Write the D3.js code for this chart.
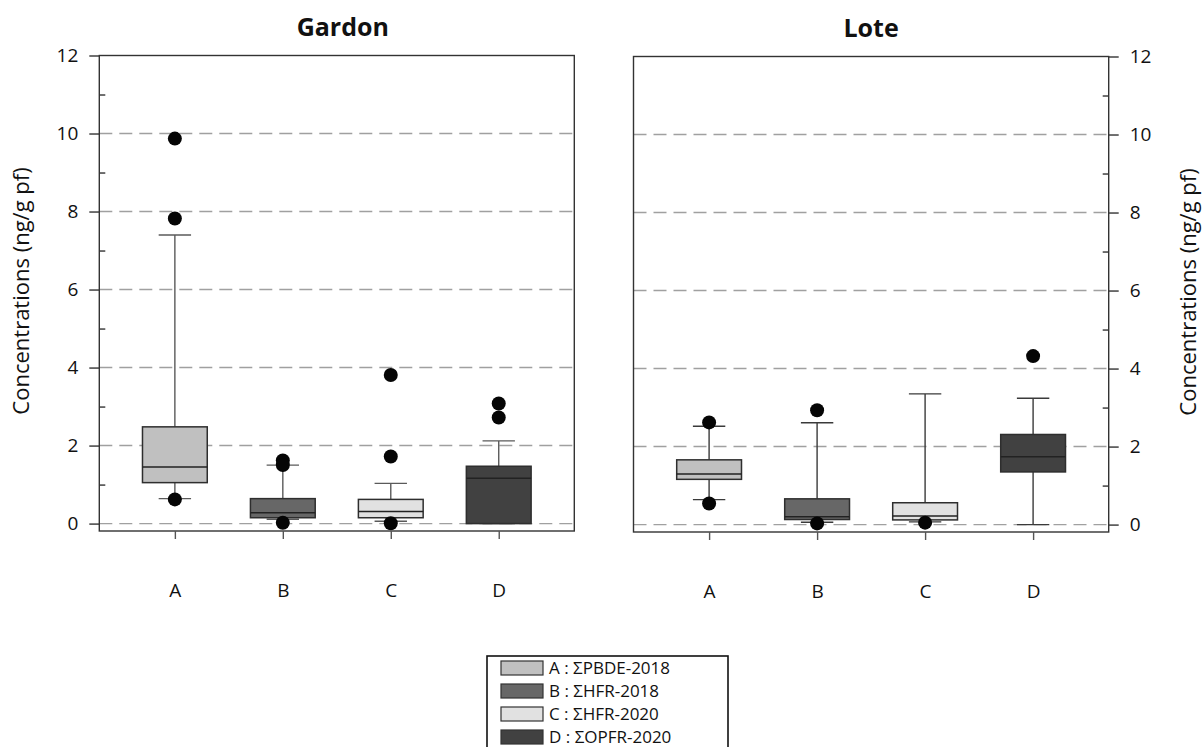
<!DOCTYPE html>
<html>
<head>
<meta charset="utf-8">
<script src="https://cdnjs.cloudflare.com/ajax/libs/d3/7.8.5/d3.min.js"></script>
<style>
  body { margin: 0; background: #fff; }
  svg { font-family: "Open Sans", "DejaVu Sans", sans-serif; }
</style>
</head>
<body>
<svg id="chart" width="1203" height="747"></svg>
<script>
// categories and legend
var categories = ["A", "B", "C", "D"];
var legendLabels = ["A : \u03A3PBDE-2018", "B : \u03A3HFR-2018", "C : \u03A3HFR-2020", "D : \u03A3OPFR-2020"];
var boxColors = ["#c0c0c0", "#676767", "#e1e1e1", "#414141"];

// y axis ticks
var yTicks = [0, 2, 4, 6, 8, 10, 12];
var yMinorTicks = [1, 3, 5, 7, 9, 11];
var gridValues = [0, 2, 4, 6, 8, 10];

// Gardon box stats (ng/g pf)
var gardonLow    = [0.64, 0.11, 0.06, 0.00];
var gardonQ1     = [1.05, 0.15, 0.15, 0.00];
var gardonMedian = [1.45, 0.28, 0.31, 1.16];
var gardonQ3     = [2.48, 0.64, 0.62, 1.47];
var gardonHigh   = [7.40, 1.50, 1.03, 2.12];
var gardonOutliers = [[9.87, 7.82, 0.62], [1.62, 1.50, 0.02], [3.81, 1.72, 0.01], [3.08, 2.72]];

// Lote box stats (ng/g pf)
var loteLow    = [0.64, 0.06, 0.07, 0.00];
var loteQ1     = [1.16, 0.13, 0.12, 1.35];
var loteMedian = [1.30, 0.20, 0.22, 1.74];
var loteQ3     = [1.66, 0.66, 0.56, 2.31];
var loteHigh   = [2.52, 2.61, 3.35, 3.24];
var loteOutliers = [[2.62, 0.54], [2.93, 0.03], [0.05], [4.32]];

var svg = d3.select("#chart");

var y = d3.scaleLinear()
    .domain([-0.19, 12])
    .range([531, 55.5]);

/**
 * Draws one boxplot panel
 */
function drawPanel(opts) {
    var g = svg.append("g").attr("transform", "translate(0," + opts.dy + ")");

    var x = d3.scalePoint()
        .domain(categories)
        .range([opts.left, opts.right])
        .padding(0.7);
    var step = x.step();
    var boxW = step * 0.6;
    var capW = step * 0.3;

    var rows = categories.map(function(c, i) {
        return {cat: c, low: opts.low[i], q1: opts.q1[i], med: opts.median[i],
                q3: opts.q3[i], high: opts.high[i], out: opts.outliers[i], color: boxColors[i]};
    });

    // dashed grid lines
    g.selectAll(".grid")
        .data(gridValues)
        .enter().append("line")
        .attr("x1", opts.left).attr("x2", opts.right)
        .attr("y1", function(d) { return y(d); })
        .attr("y2", function(d) { return y(d); })
        .attr("stroke", "#a0a0a0")
        .attr("stroke-width", 1.4)
        .attr("stroke-dasharray", "13,7");

    // whiskers
    var wc = opts.whiskerColor;
    rows.forEach(function(d) {
        var cx = x(d.cat);
        g.append("line").attr("x1", cx).attr("x2", cx)
            .attr("y1", y(d.q3)).attr("y2", y(d.high))
            .attr("stroke", wc).attr("stroke-width", 1.4);
        g.append("line").attr("x1", cx).attr("x2", cx)
            .attr("y1", y(d.q1)).attr("y2", y(d.low))
            .attr("stroke", wc).attr("stroke-width", 1.4);
        g.append("line").attr("x1", cx - capW / 2).attr("x2", cx + capW / 2)
            .attr("y1", y(d.high)).attr("y2", y(d.high))
            .attr("stroke", wc).attr("stroke-width", 1.4);
        g.append("line").attr("x1", cx - capW / 2).attr("x2", cx + capW / 2)
            .attr("y1", y(d.low)).attr("y2", y(d.low))
            .attr("stroke", wc).attr("stroke-width", 1.4);
    });

    // boxes
    g.selectAll(".box")
        .data(rows)
        .enter().append("rect")
        .attr("x", function(d) { return x(d.cat) - boxW / 2; })
        .attr("width", boxW)
        .attr("y", function(d) { return y(d.q3); })
        .attr("height", function(d) { return y(d.q1) - y(d.q3); })
        .attr("fill", function(d) { return d.color; })
        .attr("stroke", "#2e2e2e")
        .attr("stroke-width", 1.5);

    g.selectAll(".median")
        .data(rows)
        .enter().append("line")
        .attr("x1", function(d) { return x(d.cat) - boxW / 2; })
        .attr("x2", function(d) { return x(d.cat) + boxW / 2; })
        .attr("y1", function(d) { return y(d.med); })
        .attr("y2", function(d) { return y(d.med); })
        .attr("stroke", "#222")
        .attr("stroke-width", 1.5);

    // outliers
    rows.forEach(function(d) {
        g.selectAll(null)
            .data(d.out)
            .enter().append("circle")
            .attr("cx", x(d.cat))
            .attr("cy", function(v) { return y(v); })
            .attr("r", 7)
            .attr("fill", "#050505");
    });

    // frame
    g.append("rect")
        .attr("x", opts.left).attr("y", y(12))
        .attr("width", opts.right - opts.left)
        .attr("height", y(-0.19) - y(12))
        .attr("fill", "none")
        .attr("stroke", "#333")
        .attr("stroke-width", 1.4);

    // bottom axis
    var xAxis = g.append("g")
        .attr("transform", "translate(0," + y(-0.19) + ")")
        .call(d3.axisBottom(x).tickSize(8).tickPadding(45));
    xAxis.select(".domain").remove();
    xAxis.selectAll("line").attr("stroke", "#555").attr("stroke-width", 1.4);
    xAxis.selectAll("text").attr("font-size", 19).attr("fill", "#111")
        .attr("font-family", "'Open Sans', sans-serif");

    // y axis: major ticks outside, minor ticks inside
    var side = opts.axisSide;
    var axisX = side == "left" ? opts.left : opts.right;
    var major = side == "left" ? d3.axisLeft(y) : d3.axisRight(y);
    var minor = side == "left" ? d3.axisLeft(y) : d3.axisRight(y);

    var yAxis = g.append("g")
        .attr("transform", "translate(" + axisX + ",0)")
        .call(major.tickValues(yTicks).tickSize(10).tickPadding(11).tickFormat(d3.format("d")));
    yAxis.select(".domain").remove();
    yAxis.selectAll("line").attr("stroke", "#333").attr("stroke-width", 1.4);
    yAxis.selectAll("text").attr("font-size", 19).attr("fill", "#111")
        .attr("font-family", "'Open Sans', sans-serif");

    var yMinor = g.append("g")
        .attr("transform", "translate(" + axisX + ",0)")
        .call(minor.tickValues(yMinorTicks).tickSize(-6).tickFormat(""));
    yMinor.select(".domain").remove();
    yMinor.selectAll("line").attr("stroke", "#333").attr("stroke-width", 1.4);

    // panel title
    g.append("text")
        .attr("x", (opts.left + opts.right) / 2 + opts.titleShift)
        .attr("y", 36)
        .attr("text-anchor", "middle")
        .attr("font-size", 25)
        .attr("font-weight", "bold")
        .attr("fill", "#111")
        .text(opts.title);

    // axis title
    g.append("text")
        .attr("transform", "translate(" + opts.labelX + "," + 291 + ") rotate(-90)")
        .attr("text-anchor", "middle")
        .attr("dy", "0.35em")
        .attr("font-size", 22)
        .attr("fill", "#111")
        .text("Concentrations (ng/g pf)");
}

drawPanel({
    title: "Gardon", left: 99.3, right: 574.3, dy: 0, titleShift: 6,
    low: gardonLow, q1: gardonQ1, median: gardonMedian, q3: gardonQ3, high: gardonHigh,
    outliers: gardonOutliers, whiskerColor: "#5a5a5a", axisSide: "left", labelX: 21
});

drawPanel({
    title: "Lote", left: 633.5, right: 1108.7, dy: 1, titleShift: 0,
    low: loteLow, q1: loteQ1, median: loteMedian, q3: loteQ3, high: loteHigh,
    outliers: loteOutliers, whiskerColor: "#3a3a3a", axisSide: "right", labelX: 1188
});

// legend
var legend = svg.append("g");
legend.append("rect")
    .attr("x", 487).attr("y", 656)
    .attr("width", 241).attr("height", 120)
    .attr("fill", "#fff")
    .attr("stroke", "#111")
    .attr("stroke-width", 1.6);

var legendY = d3.scalePoint()
    .domain(categories)
    .range([668, 737]);

var items = legend.selectAll(".item")
    .data(categories)
    .enter().append("g")
    .attr("transform", function(d) { return "translate(0," + legendY(d) + ")"; });

items.append("rect")
    .attr("x", 501).attr("y", -7)
    .attr("width", 42).attr("height", 14)
    .attr("fill", function(d, i) { return boxColors[i]; })
    .attr("stroke", "#333")
    .attr("stroke-width", 1.2);

items.append("text")
    .attr("x", 549)
    .attr("dy", "0.36em")
    .attr("font-size", 17)
    .attr("fill", "#111")
    .text(function(d, i) { return legendLabels[i]; });
</script>
</body>
</html>
